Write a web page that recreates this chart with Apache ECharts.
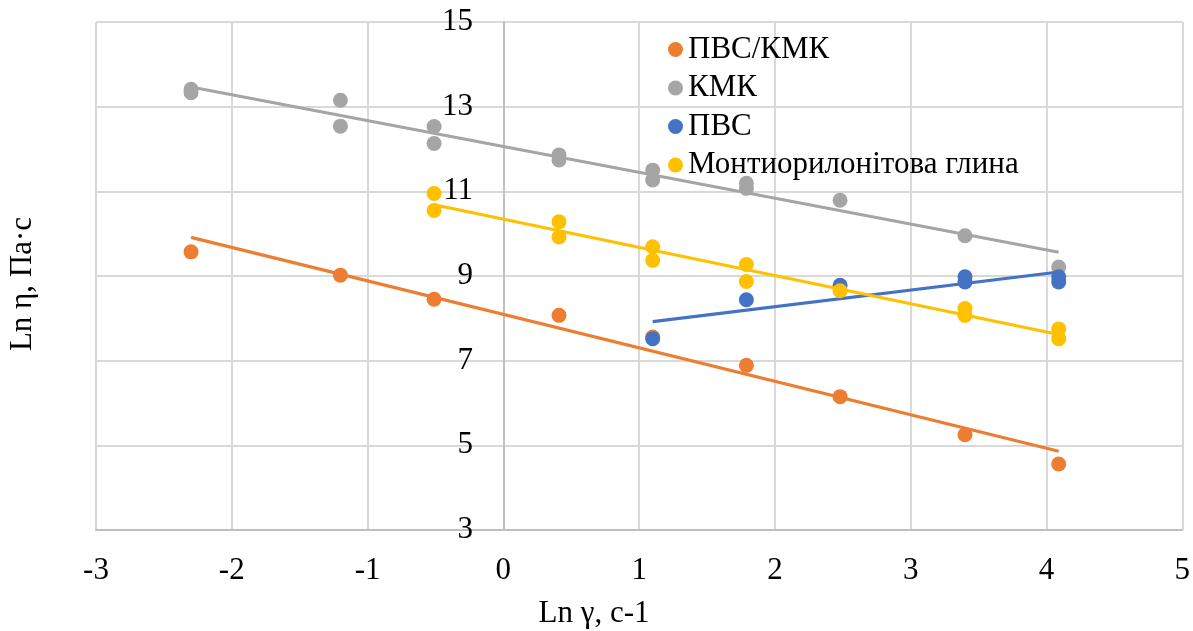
<!DOCTYPE html>
<html>
<head>
<meta charset="utf-8">
<script src="https://cdn.jsdelivr.net/npm/echarts@6/dist/echarts.min.js"></script>
<style>
html,body{margin:0;padding:0;background:#fff;}
#chart{width:1193px;height:631px;}
</style>
</head>
<body>
<div id="chart"></div>
<script>
// ---- data ----
const lnRate = [-2.30, -1.20, -0.51, 0.41, 1.10, 1.79, 2.48, 3.40, 4.09];
const seriesNames = ['ПВС/КМК', 'КМК', 'ПВС', 'Монтиорилонітова глина'];
const pvsKmk = [9.57, 9.02, 8.45, 8.07, 7.56, 6.89, 6.15, 5.25, 4.56];
const kmkA   = [13.41, 13.15, 12.53, 11.86, 11.50, 11.19, 10.79, 9.95, 9.21];
const kmkB   = [13.33, 12.54, 12.13, 11.74, 11.27, 11.07, null, null, null];
const pvsA   = [null, null, null, null, 7.52, 8.44, 8.78, 8.98, 8.98];
const pvsB   = [null, null, null, null, null, null, null, 8.86, 8.86];
const montA  = [null, null, 10.95, 10.28, 9.69, 9.27, 8.65, 8.23, 7.75];
const montB  = [null, null, 10.55, 9.92, 9.37, 8.87, null, 8.07, 7.52];
const xTicks = [-3, 5, 1];   // min, max, interval
const yTicks = [3, 15, 2];
const xTitle = 'Ln γ, c-1';
const yTitle = 'Ln η, Па·с';

const colors = ['#ED7D31', '#A5A5A5', '#4472C4', '#FFC000'];
const FONT = '"Liberation Serif", "Times New Roman", serif';

function pairs(...arrs) {
  const out = [];
  arrs.forEach(a => a.forEach((v, i) => { if (v !== null) out.push([lnRate[i], v]); }));
  return out;
}
function trend(pts) {
  const n = pts.length;
  let sx = 0, sy = 0;
  pts.forEach(p => { sx += p[0]; sy += p[1]; });
  const mx = sx / n, my = sy / n;
  let sxy = 0, sxx = 0;
  pts.forEach(p => { sxy += (p[0] - mx) * (p[1] - my); sxx += (p[0] - mx) * (p[0] - mx); });
  const b = sxy / sxx, a = my - b * mx;
  const xs = pts.map(p => p[0]);
  const x0 = Math.min(...xs), x1 = Math.max(...xs);
  return [[x0, a + b * x0], [x1, a + b * x1]];
}

const groups = [
  pairs(pvsKmk),
  pairs(kmkA, kmkB),
  pairs(pvsA, pvsB),
  pairs(montA, montB)
];

const series = [];
groups.forEach((pts, i) => {
  series.push({
    name: seriesNames[i] + ' trend',
    type: 'line',
    data: trend(pts),
    showSymbol: false,
    symbol: 'none',
    lineStyle: { color: colors[i], width: 3.2 },
    z: 2 + i * 2,
    silent: true
  });
  series.push({
    name: seriesNames[i],
    type: 'scatter',
    data: pts,
    symbol: 'circle',
    symbolSize: 15,
    itemStyle: { color: colors[i], opacity: 1 },
    z: 3 + i * 2
  });
});

const gridLeft = 96;
const chart = echarts.init(document.getElementById('chart'), null, { renderer: 'canvas' });
chart.setOption({
  animation: false,
  backgroundColor: '#ffffff',
  grid: { left: gridLeft, right: 10, top: 22, bottom: 101, containLabel: false },
  legend: {
    data: seriesNames.map(n => ({ name: n, icon: 'circle' })),
    orient: 'vertical',
    left: 663,
    top: 29,
    itemWidth: 15,
    itemHeight: 15,
    itemGap: 7.5,
    textStyle: { fontFamily: FONT, fontSize: 31, color: '#000' }
  },
  xAxis: {
    type: 'value',
    min: xTicks[0], max: xTicks[1], interval: xTicks[2],
    axisLine: { show: true, onZero: false, lineStyle: { color: '#BFBFBF', width: 2 } },
    axisTick: { show: false },
    axisLabel: { fontFamily: FONT, fontSize: 31, color: '#000', margin: 25 },
    splitLine: { show: true, lineStyle: { color: '#D9D9D9', width: 2 } }
  },
  yAxis: {
    type: 'value',
    min: yTicks[0], max: yTicks[1], interval: yTicks[2],
    axisLine: { show: true, onZero: true, lineStyle: { color: '#BFBFBF', width: 2 } },
    axisTick: { show: false },
    // labels sit beside the y axis, which crosses at x = 0
    axisLabel: { fontFamily: FONT, fontSize: 31, color: '#000', align: 'right', margin: -377 },
    splitLine: { show: true, lineStyle: { color: '#D9D9D9', width: 2 } }
  },
  graphic: [
    {
      type: 'text',
      x: 594, y: 614,
      style: { text: xTitle, font: '31px ' + FONT, fill: '#000', align: 'center', verticalAlign: 'middle' }
    },
    {
      type: 'text',
      x: 23, y: 284,
      rotation: Math.PI / 2,
      style: { text: yTitle, font: '31px ' + FONT, fill: '#000', align: 'center', verticalAlign: 'middle' }
    }
  ],
  series: series
});
</script>
</body>
</html>
